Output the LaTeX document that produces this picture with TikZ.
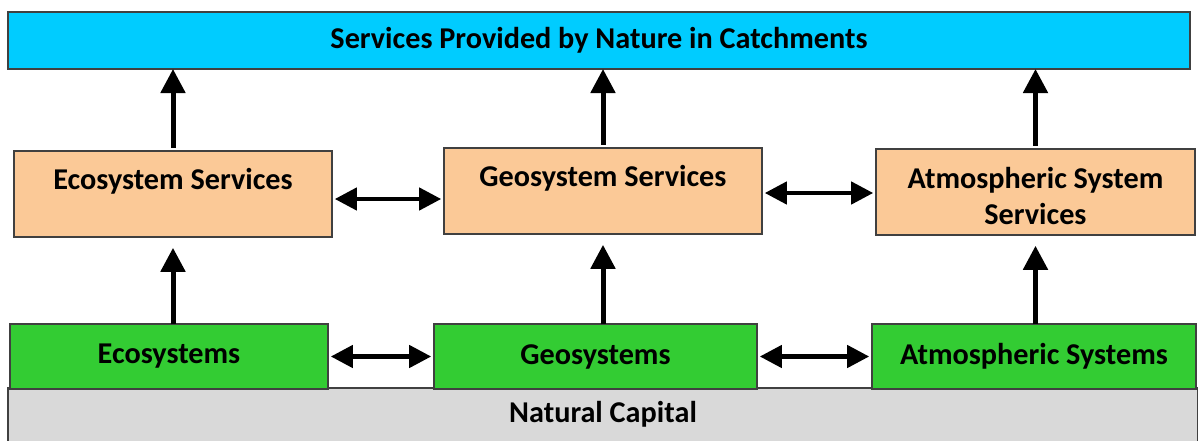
\documentclass[tikz,border=0pt]{standalone}
\usepackage{fontspec}
\setmainfont{Carlito}
\usetikzlibrary{arrows.meta}

\definecolor{topblue}{RGB}{0,204,255}
\definecolor{srvorange}{RGB}{251,201,151}
\definecolor{sysgreen}{RGB}{51,204,51}
\definecolor{capgrey}{RGB}{217,217,217}

\begin{document}
\begin{tikzpicture}[
  every node/.style={font=\fontsize{21.5}{25}\selectfont\bfseries, inner sep=0pt, outer sep=0pt},
  topbar/.style={rectangle, draw=black!75, line width=1pt, fill=topblue,
                 minimum width=29.55cm, minimum height=1.425cm},
  srvbox/.style={rectangle, draw=black!75, line width=1pt, fill=srvorange,
                 minimum width=7.95cm, minimum height=2.15cm, align=center},
  sysbox/.style={rectangle, draw=black!75, line width=1pt, fill=sysgreen,
                 minimum width=7.95cm, minimum height=1.625cm},
  capbar/.style={rectangle, fill=capgrey, minimum width=29.75cm, minimum height=1.325cm},
  uparrow/.style={-{Triangle[length=0.6cm, width=0.6cm]}, line width=0.125cm},
  biarrow/.style={{Triangle[length=0.55cm, width=0.55cm]}-{Triangle[length=0.55cm, width=0.55cm]},
                  line width=0.11cm, shorten <=0.07cm, shorten >=0.07cm}
]
  \useasboundingbox (0,0) rectangle (29.95,-11.025);

  % Natural capital
  \node[capbar] (cap) at (15.075,-10.3625) {Natural Capital};
  \draw[draw=black!75, line width=1pt] (cap.south west) -- (cap.north west)
    -- (cap.north east) -- (cap.south east);

  % Services provided by nature
  \node[topbar] (top) at (14.975,-1.0125) {Services Provided by Nature in Catchments};

  % Services
  \node[srvbox] (ecosrv) at (4.325,-4.85) {};
  \node (ecosrvtxt) at ([yshift=0.33cm]ecosrv.center) {Ecosystem Services};
  \node[srvbox] (geosrv) at (15.075,-4.775) {};
  \node (geosrvtxt) at ([yshift=0.33cm]geosrv.center) {Geosystem Services};
  \node[srvbox, minimum width=7.975cm] (atmsrv) at (25.8875,-4.8) {};
  \node[align=center] (atmsrvtxt) at ([yshift=-0.1cm]atmsrv.center) {Atmospheric System\\ Services};

  % Systems
  \node[sysbox] (eco) at (4.225,-8.9125) {Ecosystems};
  \node[sysbox, minimum width=8.075cm] (geo) at (14.8875,-8.9125) {Geosystems};
  \node[sysbox, minimum width=8.1cm] (atm) at (25.85,-8.9125) {Atmospheric Systems};

  % Arrows up
  \draw[uparrow, shorten <=0.08cm] (ecosrv.north) -- (ecosrv.north |- top.south);
  \draw[uparrow, shorten <=0.08cm] (geosrv.north) -- (geosrv.north |- top.south);
  \draw[uparrow, shorten <=0.08cm] (atmsrv.north) -- (atmsrv.north |- top.south);
  \draw[uparrow, shorten >=0.27cm] (eco.north -| ecosrv.south) -- (ecosrv.south);
  \draw[uparrow, shorten >=0.27cm] (geo.north -| geosrv.south) -- (geosrv.south);
  \draw[uparrow, shorten >=0.27cm] (atm.north -| atmsrv.south) -- (atmsrv.south);

  % Arrows between
  \draw[biarrow] ([yshift=-0.125cm]ecosrv.east) -- ([yshift=-0.125cm]ecosrv.east -| geosrv.west);
  \draw[biarrow] ([yshift=-0.05cm]geosrv.east) -- ([yshift=-0.05cm]geosrv.east -| atmsrv.west);
  \draw[biarrow] (eco.east) -- (eco.east -| geo.west);
  \draw[biarrow] (geo.east) -- (geo.east -| atm.west);
\end{tikzpicture}
\end{document}
